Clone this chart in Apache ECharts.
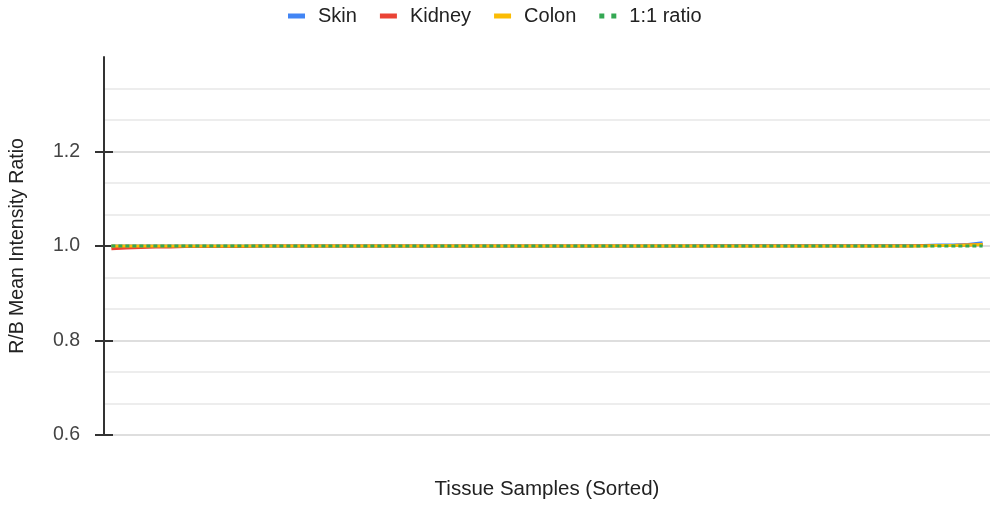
<!DOCTYPE html>
<html>
<head>
<meta charset="utf-8">
<script src="https://cdn.jsdelivr.net/npm/echarts@6/dist/echarts.min.js"></script>
<style>html,body{margin:0;padding:0;background:#fff}#c{width:996px;height:506px}</style>
</head>
<body>
<div id="c"></div>
<script>
const seriesNames = ['Skin', 'Kidney', 'Colon', '1:1 ratio'];
const skin = [1.000,1.000,1.000,1.000,1.000,1.000,1.000,1.000,1.000,1.000,
              1.000,1.000,1.000,1.000,1.000,1.000,1.000,1.000,1.000,1.000,
              1.000,1.000,1.000,1.000,1.000,1.000,1.000,1.000,1.000,1.000,
              1.000,1.000,1.000,1.000,1.000,1.000,1.000,1.000,1.000,1.000,
              1.001,1.001,1.001,1.001,1.001,1.001,1.001,1.001,1.001,1.001,
              1.001,1.001,1.001,1.001,1.001,1.001,1.002,1.002,1.003,1.007];
const kidney = [0.994,0.996,0.997,0.998,0.998,0.999,0.999,0.999,0.999,0.999,
                1.000,1.000,1.000,1.000,1.000,1.000,1.000,1.000,1.000,1.000,
                1.000,1.000,1.000,1.000,1.000,1.000,1.000,1.000,1.000,1.000,
                1.000,1.000,1.000,1.000,1.000,1.000,1.000,1.000,1.000,1.000,
                1.000,1.000,1.000,1.000,1.000,1.000,1.000,1.000,1.000,1.000,
                1.000,1.000,1.000,1.000,1.000,1.001,1.001,1.001,1.002,1.003];
const colon = [1.000,1.000,1.000,1.000,1.000,1.000,1.000,1.000,1.000,1.000,
               1.000,1.000,1.000,1.000,1.000,1.000,1.000,1.000,1.000,1.000,
               1.000,1.000,1.000,1.000,1.000,1.000,1.000,1.000,1.000,1.000,
               1.000,1.000,1.000,1.000,1.000,1.000,1.000,1.000,1.000,1.000,
               1.000,1.000,1.000,1.000,1.000,1.000,1.000,1.000,1.000,1.000,
               1.000,1.000,1.000,1.000,1.000,1.000,1.001,1.001,1.002,1.003];
const ratioLine = [1,1,1,1,1,1,1,1,1,1,1,1,1,1,1,1,1,1,1,1,
                   1,1,1,1,1,1,1,1,1,1,1,1,1,1,1,1,1,1,1,1,
                   1,1,1,1,1,1,1,1,1,1,1,1,1,1,1,1,1,1,1,1];
const yTicks = [0.6, 0.8, 1.0, 1.2];
const categories = skin.map((v, i) => 'Sample ' + (i + 1));

const colors = ['#4285F4', '#EA4335', '#FBBC04', '#34A853'];
const font = 'Arial, "Liberation Sans", Helvetica, sans-serif';
const chart = echarts.init(document.getElementById('c'), null, {renderer: 'canvas'});
const lineSeries = (name, data, color) => ({
  name, type: 'line', data, symbol: 'none', showSymbol: false,
  lineStyle: {color, width: 3}, itemStyle: {color}, z: 3, animation: false
});
chart.setOption({
  animation: false,
  textStyle: {fontFamily: font},
  color: colors,
  legend: {
    top: 1, left: 283, itemWidth: 17, itemHeight: 5, itemGap: 23,
    textStyle: {fontSize: 20, color: '#222', fontFamily: font, padding: [0, 0, 0, 8]},
    data: [
      {name: 'Skin', icon: 'rect'},
      {name: 'Kidney', icon: 'rect'},
      {name: 'Colon', icon: 'rect'},
      {name: '1:1 ratio', icon: 'path://M0,0h5v5h-5z M12,0h5v5h-5z'}
    ]
  },
  grid: {left: 104, right: 6, top: 57, bottom: 71},
  xAxis: {
    type: 'category', data: categories, boundaryGap: true,
    name: 'Tissue Samples (Sorted)', nameLocation: 'middle', nameGap: 44,
    nameTextStyle: {fontSize: 20.5, color: '#222', fontFamily: font},
    axisLine: {show: false}, axisTick: {show: false}, axisLabel: {show: false},
    splitLine: {show: false}
  },
  yAxis: [{
    type: 'value', min: 0.6, max: 1.4, interval: 0.2,
    name: 'R/B Mean Intensity Ratio', nameLocation: 'middle', nameGap: 76,
    nameTextStyle: {fontSize: 19.5, color: '#222', fontFamily: font},
    axisLine: {show: true, lineStyle: {color: '#333', width: 2}},
    axisTick: {show: true, length: 9, customValues: yTicks, lineStyle: {color: '#333', width: 2}},
    axisLabel: {customValues: yTicks, margin: 24, fontSize: 19.5, color: '#444', fontFamily: font,
      formatter: v => v.toFixed(1)},
    splitLine: {show: true, lineStyle: {color: ['#d3d3d3', '#d3d3d3', '#d3d3d3', '#d3d3d3', 'rgba(0,0,0,0)'], width: 1.5}},
    minorTick: {show: false, splitNumber: 3},
    minorSplitLine: {show: true, lineStyle: {color: '#e8e8e8', width: 1.5}}
  }, {
    type: 'value', min: 0.6, max: 1.4, interval: 0.2, position: 'left', offset: 0,
    axisLine: {show: true, lineStyle: {color: 'rgba(0,0,0,0)', width: 1}},
    axisTick: {show: true, inside: true, length: 9, customValues: yTicks, lineStyle: {color: '#333', width: 2}},
    axisLabel: {show: true, customValues: yTicks, formatter: () => '', color: 'rgba(0,0,0,0)'},
    splitLine: {show: false}
  }],
  series: [
    lineSeries('Skin', skin, colors[0]),
    lineSeries('Kidney', kidney, colors[1]),
    lineSeries('Colon', colon, colors[2]),
    {name: '1:1 ratio', type: 'line', data: ratioLine, symbol: 'none', showSymbol: false,
     lineStyle: {color: colors[3], width: 3, type: [4, 3]}, itemStyle: {color: colors[3]}, z: 4}
  ]
});
</script>
</body>
</html>
